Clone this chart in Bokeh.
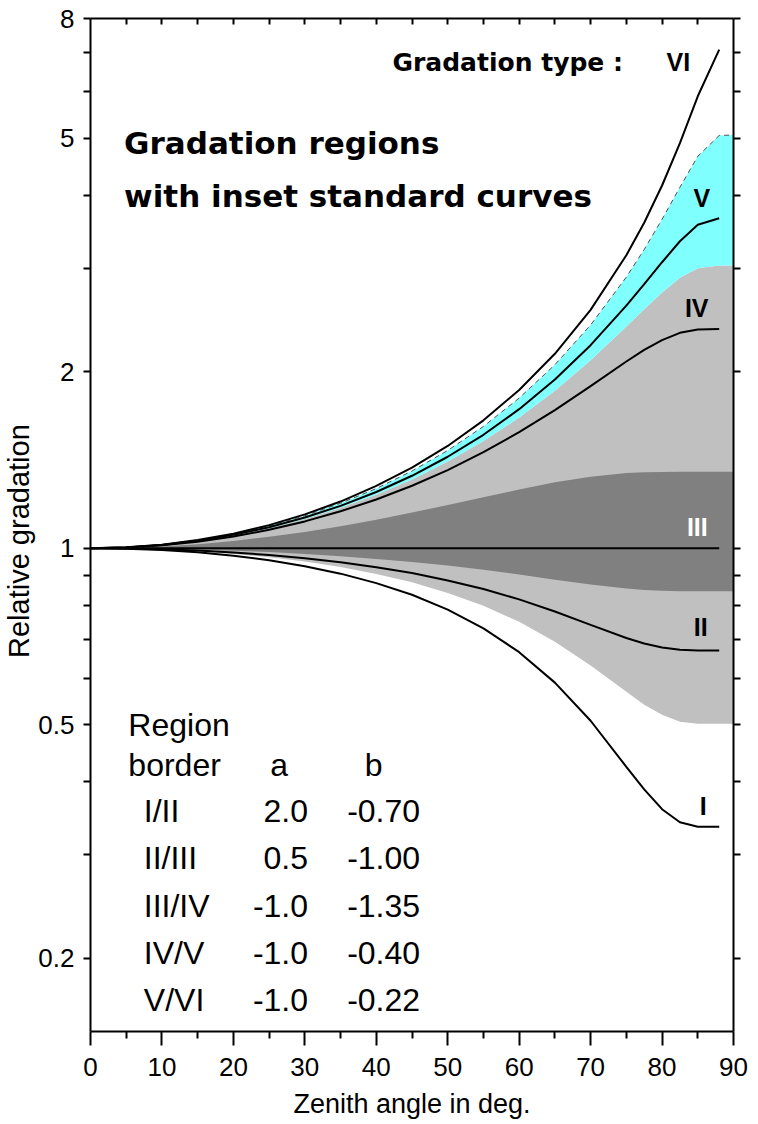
from bokeh.plotting import figure
from bokeh.models import Range1d, FixedTicker, LogAxis, LinearAxis, CustomJSTickFormatter
from bokeh.core.properties import value
from bokeh.embed import file_html
from bokeh.resources import INLINE

# ---------------- data ----------------
zenith = [0, 5, 10, 15, 20, 25, 30, 35, 40, 45, 50, 55, 60, 65, 70, 75, 77.5, 80, 82.5, 85, 88]
zenith_border = [0, 5, 10, 15, 20, 25, 30, 35, 40, 45, 50, 55, 60, 65, 70, 75, 77.5, 80, 82.5, 85, 88, 90]

# standard gradation curves I..VI
curve_I = [1.000, 0.998, 0.993, 0.984, 0.971, 0.954, 0.932, 0.905, 0.872, 0.833, 0.786,
           0.730, 0.665, 0.590, 0.508, 0.424, 0.388, 0.359, 0.341, 0.335, 0.335]
curve_II = [1.000, 0.999, 0.996, 0.991, 0.983, 0.974, 0.961, 0.946, 0.928, 0.907, 0.881,
            0.852, 0.818, 0.780, 0.740, 0.703, 0.688, 0.677, 0.671, 0.669, 0.669]
curve_III = [1.000, 1.000, 1.000, 1.000, 1.000, 1.000, 1.000, 1.000, 1.000, 1.000, 1.000,
             1.000, 1.000, 1.000, 1.000, 1.000, 1.000, 1.000, 1.000, 1.000, 1.000]
curve_IV = [1.000, 1.003, 1.012, 1.026, 1.047, 1.075, 1.111, 1.156, 1.211, 1.278, 1.359,
            1.458, 1.577, 1.720, 1.890, 2.081, 2.178, 2.264, 2.329, 2.359, 2.364]
curve_V = [1.000, 1.003, 1.013, 1.030, 1.054, 1.086, 1.128, 1.181, 1.247, 1.329, 1.432,
           1.561, 1.726, 1.939, 2.219, 2.591, 2.819, 3.073, 3.337, 3.559, 3.651]
curve_VI = [1.000, 1.004, 1.014, 1.033, 1.059, 1.095, 1.142, 1.201, 1.277, 1.372, 1.494,
            1.652, 1.861, 2.145, 2.549, 3.158, 3.589, 4.153, 4.904, 5.895, 7.082]

# region borders
border_I_II = [1.000, 0.999, 0.995, 0.988, 0.978, 0.965, 0.949, 0.929, 0.904, 0.875, 0.839,
               0.798, 0.749, 0.693, 0.631, 0.569, 0.541, 0.520, 0.506, 0.502, 0.502, 0.502]
border_II_III = [1.000, 0.999, 0.998, 0.995, 0.990, 0.985, 0.978, 0.969, 0.959, 0.947, 0.934,
                 0.919, 0.902, 0.884, 0.867, 0.854, 0.849, 0.846, 0.845, 0.845, 0.845, 0.845]
border_III_IV = [1.000, 1.002, 1.007, 1.016, 1.029, 1.046, 1.066, 1.090, 1.118, 1.150, 1.185,
                 1.222, 1.259, 1.295, 1.324, 1.343, 1.347, 1.349, 1.350, 1.350, 1.350, 1.350]
border_IV_V = [1.000, 1.003, 1.013, 1.028, 1.052, 1.082, 1.122, 1.172, 1.234, 1.310, 1.405,
               1.523, 1.670, 1.856, 2.091, 2.387, 2.555, 2.730, 2.892, 3.002, 3.033, 3.033]
border_V_VI = [1.000, 1.003, 1.014, 1.031, 1.057, 1.091, 1.136, 1.193, 1.264, 1.354, 1.468,
               1.613, 1.803, 2.055, 2.402, 2.899, 3.231, 3.637, 4.125, 4.658, 5.055, 5.064]

# inset table
table_rows = ["I/II", "II/III", "III/IV", "IV/V", "V/VI"]
table_a = ["2.0", "0.5", "-1.0", "-1.0", "-1.0"]
table_b = ["-0.70", "-1.00", "-1.35", "-0.40", "-0.22"]

curve_names = ["VI", "V", "IV", "III", "II", "I"]

# axis ticks
y_ticks = [0.2, 0.5, 1, 2, 5, 8]
y_minor = [0.3, 0.4, 0.6, 0.7, 0.8, 0.9, 3, 4, 6, 7]
x_ticks = [0, 10, 20, 30, 40, 50, 60, 70, 80, 90]
x_minor = [5, 15, 25, 35, 45, 55, 65, 75, 85]
x_top_ticks = [5, 10, 15, 20, 25, 30, 35, 40, 45, 50, 55, 60, 65, 70, 75, 80, 85]

# ---------------- figure ----------------
FONT = "Liberation Sans"
BOLDFONT = "DejaVu Sans"

p = figure(x_range=Range1d(0, 90), y_range=Range1d(0.15, 8), y_axis_type="log",
           frame_width=643, frame_height=1013,
           min_border_left=84, min_border_right=15, min_border_top=18, min_border_bottom=96,
           output_backend="svg", toolbar_location=None)
p.grid.visible = False
p.outline_line_color = None
p.background_fill_color = "white"
p.border_fill_color = "white"

# regions
p.varea(x=zenith_border, y1=border_I_II, y2=border_IV_V, fill_color="#C0C0C0")
p.varea(x=zenith_border, y1=border_II_III, y2=border_III_IV, fill_color="#808080")
p.varea(x=zenith_border, y1=border_IV_V, y2=border_V_VI, fill_color="#80FFFF")
p.line(zenith_border, border_V_VI, line_color="#505050", line_width=1, line_dash="5 4")

# standard curves
for c in [curve_I, curve_II, curve_III, curve_IV, curve_V, curve_VI]:
    p.line(zenith, c, line_color="black", line_width=2)

# curve labels
p.text(x=[80.62, 84.40, 83.20, 84.45, 85.27], y=[6.731, 3.948, 2.563, 0.7346, 0.3632],
       text=[curve_names[0], curve_names[1], curve_names[2], curve_names[4], curve_names[5]],
       text_font=value(FONT), text_font_style="bold", text_font_size="25px",
       text_color="black", text_baseline="middle", text_align="left")
p.text(x=[83.48], y=[1.0876], text=[curve_names[3]],
       text_font=value(FONT), text_font_style="bold", text_font_size="25px",
       text_color="white", text_baseline="middle", text_align="left")

# titles
p.text(x=[4.70, 4.70], y=[4.898, 3.993],
       text=["Gradation regions", "with inset standard curves"],
       text_font=value(BOLDFONT), text_font_style="bold", text_font_size="31px",
       text_color="black", text_baseline="middle", text_align="left")
p.text(x=[42.27], y=[6.731], text=["Gradation type :"],
       text_font=value(BOLDFONT), text_font_style="bold", text_font_size="25px",
       text_color="black", text_baseline="middle", text_align="left")

# table
row_y = [0.3565, 0.2961, 0.2459, 0.2045, 0.1698]
tstyle = dict(text_font=value(FONT), text_font_size="32px", text_color="black",
              text_baseline="middle")
p.text(x=[5.30, 5.30], y=[0.4995, 0.4271], text=["Region", "border"], text_align="left", **tstyle)
p.text(x=[25.17, 38.38], y=[0.4271, 0.4271], text=["a", "b"], text_align="left", **tstyle)
p.text(x=[7.46] * 5, y=row_y, text=table_rows, text_align="left", **tstyle)
p.text(x=[30.45] * 5, y=row_y, text=table_a, text_align="right", **tstyle)
p.text(x=[35.92] * 5, y=row_y, text=table_b, text_align="left", **tstyle)

# ---------------- axes ----------------
num_fmt = "return String(tick);"
empty_fmt = "return '';"


def style(ax):
    ax.axis_line_color = "black"
    ax.axis_line_width = 2
    ax.major_tick_line_color = "black"
    ax.major_tick_line_width = 2
    ax.minor_tick_line_color = "black"
    ax.minor_tick_line_width = 2
    ax.major_label_text_font = FONT
    ax.major_label_text_font_size = "26px"
    ax.major_label_text_color = "black"
    ax.axis_label_text_font = FONT
    ax.axis_label_text_font_size = "29px"
    ax.axis_label_text_font_style = "normal"
    ax.axis_label_text_color = "black"


# left (default) axis
yax = p.left[0]
style(yax)
yax.ticker = FixedTicker(ticks=y_ticks, minor_ticks=y_minor)
yax.formatter = CustomJSTickFormatter(code=num_fmt)
yax.major_tick_in = 0
yax.major_tick_out = 7
yax.minor_tick_in = 0
yax.minor_tick_out = 7
yax.major_label_standoff = 9
yax.axis_label = "Relative gradation\u00a0\u00a0\u00a0\u00a0"
yax.axis_label_standoff = 0

# bottom (default) axis
xax = p.below[0]
style(xax)
xax.ticker = FixedTicker(ticks=x_ticks, minor_ticks=x_minor)
xax.formatter = CustomJSTickFormatter(code=num_fmt)
xax.major_tick_in = 0
xax.major_tick_out = 14
xax.minor_tick_in = 0
xax.minor_tick_out = 7
xax.major_label_standoff = 12
xax.axis_label = "Zenith angle in deg."
xax.axis_label_text_font_size = "27px"
xax.axis_label_standoff = 10

# right axis (ticks only)
rax = LogAxis(ticker=FixedTicker(ticks=y_ticks, minor_ticks=y_minor),
              formatter=CustomJSTickFormatter(code=empty_fmt))
style(rax)
rax.major_label_text_font_size = "1px"
rax.major_label_standoff = 0
rax.major_tick_in = 0
rax.major_tick_out = 7
rax.minor_tick_in = 0
rax.minor_tick_out = 7
p.add_layout(rax, "right")

# top axis (inward ticks only)
tax = LinearAxis(ticker=FixedTicker(ticks=x_top_ticks, minor_ticks=[]),
                 formatter=CustomJSTickFormatter(code=empty_fmt))
style(tax)
tax.major_label_text_font_size = "1px"
tax.major_label_standoff = 0
tax.major_tick_in = 6
tax.major_tick_out = 0
tax.minor_tick_in = 0
tax.minor_tick_out = 0
p.add_layout(tax, "above")

open("out.html", "w").write(file_html(p, INLINE))
